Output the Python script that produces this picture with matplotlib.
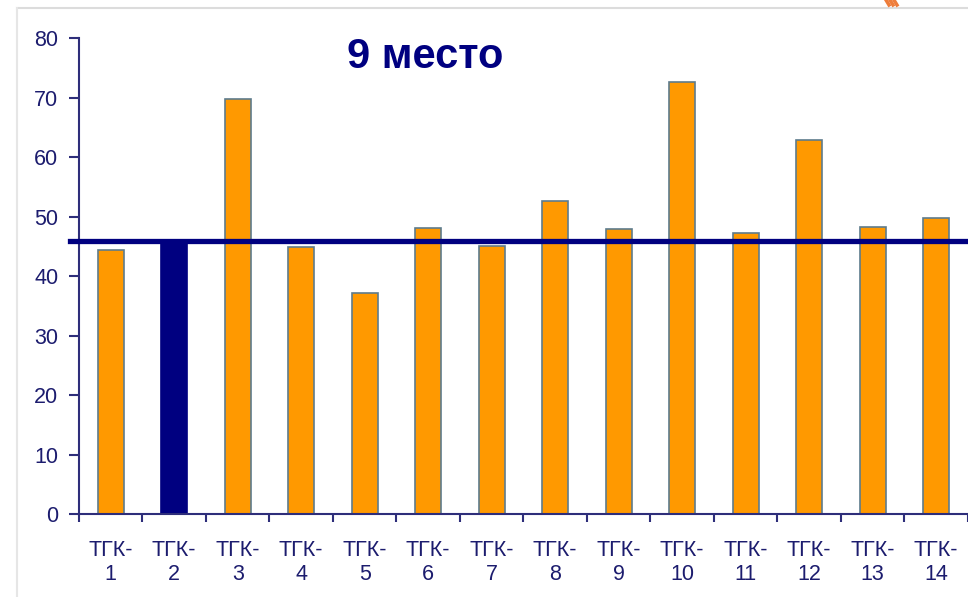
import numpy as np
import matplotlib.pyplot as plt
from matplotlib.lines import Line2D

# data
categories = ["ТГК-\n%d" % i for i in range(1, 15)]
values = [44.4, 45.9, 69.7, 44.9, 37.1, 48.1, 45.0, 52.6, 47.9, 72.6, 47.2, 62.8, 48.2, 49.7]
highlight = 1          # ТГК-2
avg_level = 45.9
title_text = "9 место"

navy = "#000080"
orange = "#FF9900"
text_col = "#1c1c6e"

plt.rcParams['font.family'] = ['Liberation Sans', 'DejaVu Sans']

fig = plt.figure(figsize=(9.68, 5.97), dpi=100)
ax = fig.add_axes([0.0816, 0.139, 0.9184, 0.7973])

x = np.arange(len(values))
colors = [navy if i == highlight else orange for i in x]
edges = [navy if i == highlight else "#5d7b8c" for i in x]
ax.bar(x, values, width=0.41, color=colors, edgecolor=edges, linewidth=1.2, zorder=2)

ax.axhline(avg_level, xmin=-0.01, xmax=1.0, color=navy, linewidth=3.8,
           clip_on=False, zorder=3)

ax.set_xlim(-0.5, len(values) - 0.5)
ax.set_ylim(0, 80)
ax.set_yticks(range(0, 81, 10))

ax.set_xticks(x)
ax.set_xticklabels(categories, fontsize=15.5, color=text_col, linespacing=1.15)
ax.set_xticks(np.arange(-0.5, len(values), 1.0), minor=True)
ax.tick_params(axis='x', which='major', length=0, pad=19)
ax.tick_params(axis='x', which='minor', length=6, width=1.5, color="#2e2e7a", direction='out')
ax.tick_params(axis='y', length=7, width=1.5, color="#2e2e7a", labelsize=15.5,
               labelcolor=text_col, pad=8)

for s in ['top', 'right']:
    ax.spines[s].set_visible(False)
for s in ['left', 'bottom']:
    ax.spines[s].set_color("#2e2e7a")
    ax.spines[s].set_linewidth(1.5)

fig.text(425 / 968, 1 - 57 / 597, title_text, fontsize=30, fontweight='bold',
         color=navy, ha='center', va='center')

# slide frame
fig.add_artist(Line2D([17 / 968, 1], [1 - 8 / 597, 1 - 8 / 597], color="#dcdcdc", linewidth=1.5))
fig.add_artist(Line2D([17 / 968, 17 / 968], [0, 1 - 8 / 597], color="#e6e6e6", linewidth=1.5))
# logo fragment
for dx in [0, 4, 8]:
    fig.add_artist(Line2D([(886 + dx) / 968, (889 + dx) / 968], [1.0, 1 - 5 / 597],
                          color="#ee7d3b", linewidth=2.5))

fig.savefig("out.png", dpi=100)
